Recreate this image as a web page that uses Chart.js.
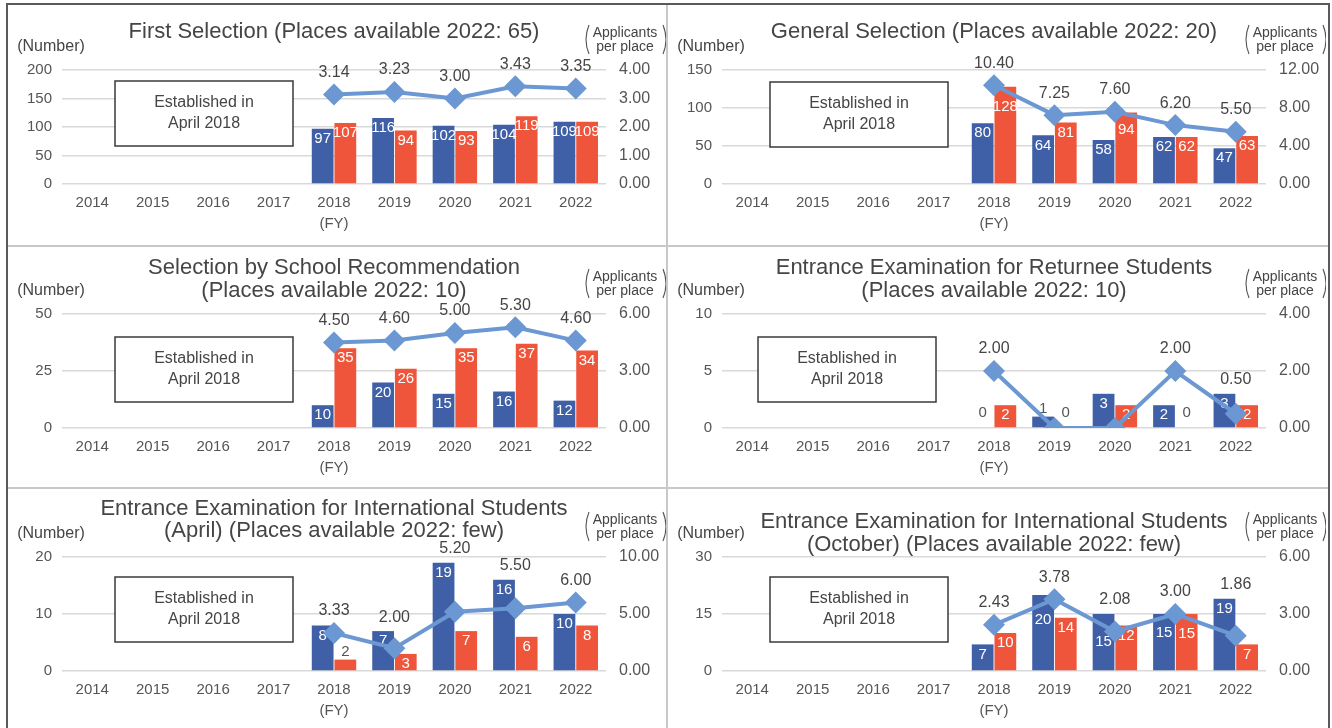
<!DOCTYPE html>
<html>
<head>
<meta charset="utf-8">
<script src="https://cdn.jsdelivr.net/npm/chart.js@4.4.0/dist/chart.umd.min.js"></script>
<style>
  body { margin: 0; background: #fff; }
  #wrap { position: relative; width: 1332px; height: 728px; overflow: hidden; background: #fff; }
  #wrap canvas { position: absolute; }
  .rule { position: absolute; }
</style>
</head>
<body>
<div id="wrap">
  <canvas id="c1" width="658" height="234" style="left:8px;top:4px"></canvas>
  <canvas id="c2" width="658" height="234" style="left:668px;top:4px"></canvas>
  <canvas id="c3" width="658" height="234" style="left:8px;top:248px"></canvas>
  <canvas id="c4" width="658" height="234" style="left:668px;top:248px"></canvas>
  <canvas id="c5" width="658" height="234" style="left:8px;top:491px"></canvas>
  <canvas id="c6" width="658" height="234" style="left:668px;top:491px"></canvas>

  <div class="rule" style="left:666px;top:5px;width:2px;height:723px;background:#c8c8c8"></div>
  <div class="rule" style="left:8px;top:245px;width:1320px;height:2px;background:#c8c8c8"></div>
  <div class="rule" style="left:8px;top:487px;width:1320px;height:2px;background:#c8c8c8"></div>
  <div class="rule" style="left:6px;top:3px;width:2px;height:725px;background:#5a5a5a"></div>
  <div class="rule" style="left:6px;top:3px;width:1324px;height:2px;background:#5a5a5a"></div>
  <div class="rule" style="left:1328px;top:3px;width:2px;height:725px;background:#5a5a5a"></div>
</div>

<script>
// ---- data (2014-2017: not yet established) ----
const years = ["2014", "2015", "2016", "2017", "2018", "2019", "2020", "2021", "2022"];
const fyYear = "2018";

const firstBlue = [null, null, null, null, 97, 116, 102, 104, 109];
const firstRed = [null, null, null, null, 107, 94, 93, 119, 109];
const firstRatio = [null, null, null, null, 3.14, 3.23, 3.0, 3.43, 3.35];
const firstLeftTicks = [0, 50, 100, 150, 200];
const firstRightTicks = [0, 1, 2, 3, 4];

const generalBlue = [null, null, null, null, 80, 64, 58, 62, 47];
const generalRed = [null, null, null, null, 128, 81, 94, 62, 63];
const generalRatio = [null, null, null, null, 10.4, 7.25, 7.6, 6.2, 5.5];
const generalLeftTicks = [0, 50, 100, 150];
const generalRightTicks = [0, 4, 8, 12];

const schoolBlue = [null, null, null, null, 10, 20, 15, 16, 12];
const schoolRed = [null, null, null, null, 35, 26, 35, 37, 34];
const schoolRatio = [null, null, null, null, 4.5, 4.6, 5.0, 5.3, 4.6];
const schoolLeftTicks = [0, 25, 50];
const schoolRightTicks = [0, 3, 6];

const returneeBlue = [null, null, null, null, 0, 1, 3, 2, 3];
const returneeRed = [null, null, null, null, 2, 0, 2, 0, 2];
const returneeRatio = [null, null, null, null, 2.0, 0, 0, 2.0, 0.5];
const returneeLeftTicks = [0, 5, 10];
const returneeRightTicks = [0, 2, 4];

const intlAprBlue = [null, null, null, null, 8, 7, 19, 16, 10];
const intlAprRed = [null, null, null, null, 2, 3, 7, 6, 8];
const intlAprRatio = [null, null, null, null, 3.33, 2.0, 5.2, 5.5, 6.0];
const intlAprLeftTicks = [0, 10, 20];
const intlAprRightTicks = [0, 5, 10];

const intlOctBlue = [null, null, null, null, 7, 20, 15, 15, 19];
const intlOctRed = [null, null, null, null, 10, 14, 12, 15, 7];
const intlOctRatio = [null, null, null, null, 2.43, 3.78, 2.08, 3.0, 1.86];
const intlOctLeftTicks = [0, 15, 30];
const intlOctRightTicks = [0, 3, 6];

// ---- style ----
const FONT = "'Liberation Sans', Arial, sans-serif";
const BLUE = "#3f5fa6";
const RED = "#ef553a";
const LINE = "#6b98d2";
const GRID = "#d9d9d9";
const TEXT = "#454545";
const TICK = "#555555";

Chart.defaults.font.family = FONT;
Chart.defaults.animation = false;

const panels = [
  { id: "c1", title: ["First Selection (Places available 2022: 65)"], titleY: [-38],
    blue: firstBlue, red: firstRed, ratio: firstRatio, left: firstLeftTicks, right: firstRightTicks, box: [53, 11] },
  { id: "c2", title: ["General Selection (Places available 2022: 20)"], titleY: [-38],
    blue: generalBlue, red: generalRed, ratio: generalRatio, left: generalLeftTicks, right: generalRightTicks, box: [48, 12] },
  { id: "c3", title: ["Selection by School Recommendation", "(Places available 2022: 10)"], titleY: [-46, -23],
    blue: schoolBlue, red: schoolRed, ratio: schoolRatio, left: schoolLeftTicks, right: schoolRightTicks, box: [53, 23] },
  { id: "c4", title: ["Entrance Examination for Returnee Students", "(Places available 2022: 10)"], titleY: [-46, -23],
    blue: returneeBlue, red: returneeRed, ratio: returneeRatio, left: returneeLeftTicks, right: returneeRightTicks, box: [36, 23] },
  { id: "c5", title: ["Entrance Examination for International Students", "(April) (Places available 2022: few)"], titleY: [-48, -26],
    blue: intlAprBlue, red: intlAprRed, ratio: intlAprRatio, left: intlAprLeftTicks, right: intlAprRightTicks, box: [53, 20] },
  { id: "c6", title: ["Entrance Examination for International Students", "(October) (Places available 2022: few)"], titleY: [-35, -12],
    blue: intlOctBlue, red: intlOctRed, ratio: intlOctRatio, left: intlOctLeftTicks, right: intlOctRightTicks, box: [48, 20] },
];

// titles, unit captions and the "Established in" note
const panelDecor = {
  id: "panelDecor",
  afterDraw(chart) {
    const p = chart.options.plugins.panelDecor;
    const a = chart.chartArea;
    const ctx = chart.ctx;
    ctx.save();
    ctx.textAlign = "center";
    ctx.textBaseline = "middle";
    ctx.fillStyle = TEXT;

    ctx.font = "22px " + FONT;
    const cx = (a.left + a.right) / 2;
    p.title.forEach((t, i) => ctx.fillText(t, cx, a.top + p.titleY[i]));

    ctx.font = "16px " + FONT;
    ctx.fillText("(Number)", a.left - 11, a.top - 23);

    // (Applicants / per place) with tall brackets
    const rx = a.right + 19;
    ctx.font = "14px " + FONT;
    ctx.fillText("Applicants", rx, a.top - 37);
    ctx.fillText("per place", rx, a.top - 23);
    ctx.strokeStyle = TICK;
    ctx.lineWidth = 1.1;
    const t0 = a.top - 45, t1 = a.top - 16;
    ctx.beginPath();
    ctx.moveTo(rx - 36, t0);
    ctx.quadraticCurveTo(rx - 42, (t0 + t1) / 2, rx - 36, t1);
    ctx.moveTo(rx + 38, t0);
    ctx.quadraticCurveTo(rx + 44, (t0 + t1) / 2, rx + 38, t1);
    ctx.stroke();

    // note box
    const bx = a.left + p.box[0], by = a.top + p.box[1];
    ctx.strokeStyle = "#3a3a3a";
    ctx.lineWidth = 1.5;
    ctx.fillStyle = "#fff";
    ctx.fillRect(bx, by, 178, 65);
    ctx.strokeRect(bx, by, 178, 65);
    ctx.fillStyle = TEXT;
    ctx.font = "16px " + FONT;
    ctx.fillText("Established in", bx + 89, by + 22);
    ctx.fillText("April 2018", bx + 89, by + 43);
    ctx.restore();
  },
};

// y of the ratio line at pixel x (null outside the drawn line)
function lineYAt(chart, x) {
  const idx = chart.data.datasets.findIndex((d) => d.type === "line");
  const ds = chart.data.datasets[idx];
  const pts = chart.getDatasetMeta(idx).data;
  for (let i = 0; i < pts.length - 1; i++) {
    if (ds.data[i] === null || ds.data[i + 1] === null) continue;
    const p0 = pts[i], p1 = pts[i + 1];
    if (x >= p0.x && x <= p1.x) return p0.y + ((x - p0.x) / (p1.x - p0.x)) * (p1.y - p0.y);
  }
  return null;
}

// value labels on bars and on the ratio line
const valueLabels = {
  id: "valueLabels",
  afterDatasetDraw(chart, args) {
    const ds = chart.data.datasets[args.index];
    const ctx = chart.ctx;
    ctx.save();
    ctx.textAlign = "center";
    ctx.textBaseline = "middle";
    if (ds.type === "bar") {
      ctx.font = "15px " + FONT;
      args.meta.data.forEach((el, i) => {
        const v = ds.data[i];
        if (v === null) return;
        const h = el.base - el.y;
        if (h >= 15) {
          let y = el.y + 10;
          const ly = lineYAt(chart, el.x);
          if (ly !== null && h >= 45 && Math.abs(y - ly) < 12 && ly + 16 <= el.base - 8) y = ly + 16;
          ctx.fillStyle = "#fff";
          ctx.fillText(String(v), el.x, y);
        } else {
          ctx.fillStyle = TICK;
          ctx.fillText(String(v), el.x, Math.min(el.y - 8, el.base - 15));
        }
      });
    } else {
      ctx.font = "16px " + FONT;
      ctx.fillStyle = TEXT;
      args.meta.data.forEach((pt, i) => {
        const v = ds.data[i];
        if (v === null || v === 0) return;
        let top = Infinity;
        chart.data.datasets.forEach((d, k) => {
          if (d.type !== "bar" || d.data[i] === null) return;
          const y = chart.getDatasetMeta(k).data[i].y;
          if (isFinite(y)) top = Math.min(top, y);
        });
        const y = Math.min(pt.y - 22, top - 14);
        ctx.fillText(v.toFixed(2), pt.x, y);
      });
    }
    ctx.restore();
  },
};

function makeChart(p) {
  const ctx = document.getElementById(p.id).getContext("2d");
  return new Chart(ctx, {
    type: "bar",
    data: {
      labels: years,
      datasets: [
        {
          type: "line",
          data: p.ratio,
          yAxisID: "y1",
          order: 0,
          borderColor: LINE,
          backgroundColor: LINE,
          borderWidth: 4,
          pointStyle: "rectRot",
          pointRadius: 11,
          pointBorderWidth: 0,
          tension: 0,
        },
        { type: "bar", data: p.blue, yAxisID: "y", order: 1, backgroundColor: BLUE,
          categoryPercentage: 0.75, barPercentage: 0.96 },
        { type: "bar", data: p.red, yAxisID: "y", order: 1, backgroundColor: RED,
          categoryPercentage: 0.75, barPercentage: 0.96 },
      ],
    },
    options: {
      responsive: false,
      animation: false,
      layout: { padding: { top: 66, left: 0, right: 0, bottom: 0 } },
      plugins: {
        legend: { display: false },
        tooltip: { enabled: false },
        panelDecor: p,
      },
      scales: {
        x: {
          grid: { display: false },
          border: { display: false },
          ticks: {
            color: TICK,
            font: { size: 15, lineHeight: 1.4 },
            padding: 0,
            maxRotation: 0,
            autoSkip: false,
            callback: (v, i) => (years[i] === fyYear ? [years[i], "(FY)"] : years[i]),
          },
          afterFit: (s) => { s.height = 54; },
        },
        y: {
          position: "left",
          min: p.left[0],
          max: p.left[p.left.length - 1],
          afterBuildTicks: (s) => { s.ticks = p.left.map((v) => ({ value: v })); },
          grid: { color: GRID, lineWidth: 1.5, drawTicks: false },
          border: { display: false },
          ticks: { color: TICK, font: { size: 15 }, padding: 10 },
          afterFit: (s) => { s.width = 54; },
        },
        y1: {
          position: "right",
          min: p.right[0],
          max: p.right[p.right.length - 1],
          afterBuildTicks: (s) => { s.ticks = p.right.map((v) => ({ value: v })); },
          grid: { display: false, drawTicks: false },
          border: { display: false },
          ticks: { color: TICK, font: { size: 16 }, padding: 13, callback: (v) => Number(v).toFixed(2) },
          afterFit: (s) => { s.width = 60; },
        },
      },
    },
    plugins: [panelDecor, valueLabels],
  });
}

panels.forEach(makeChart);
</script>
</body>
</html>
